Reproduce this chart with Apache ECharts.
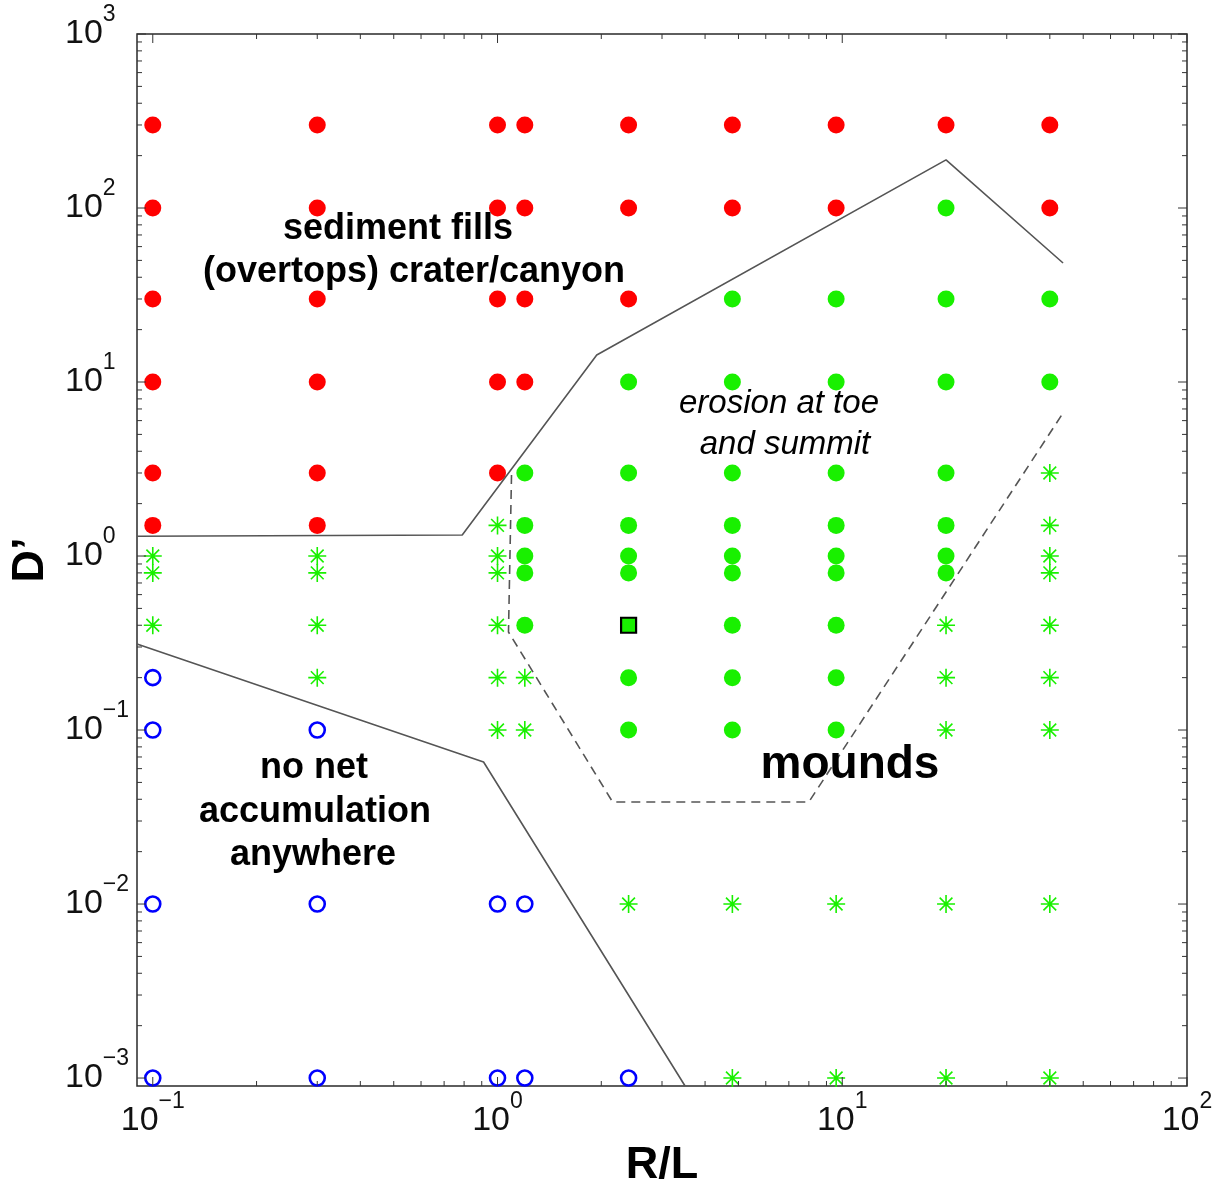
<!DOCTYPE html>
<html><head><meta charset="utf-8">
<script src="https://cdn.jsdelivr.net/npm/echarts@6/dist/echarts.min.js"></script>
<style>html,body{margin:0;padding:0;background:#fff}#chart{width:1225px;height:1183px}</style>
</head><body><div id="chart"></div>
<script>
// ---- axis tick labels (powers of ten) ----
const xTickLabels = [0.1, 1, 10, 100];
const yTickLabels = [0.001, 0.01, 0.1, 1, 10, 100, 1000];

// ---- data: [R/L, D'] ----
const fillsPts = [
  [0.1,300],[0.3,300],[1,300],[1.2,300],[2.4,300],[4.8,300],[9.6,300],[20,300],[40,300],
  [0.1,100],[0.3,100],[1,100],[1.2,100],[2.4,100],[4.8,100],[9.6,100],[40,100],
  [0.1,30],[0.3,30],[1,30],[1.2,30],[2.4,30],
  [0.1,10],[0.3,10],[1,10],[1.2,10],
  [0.1,3],[0.3,3],[1,3],
  [0.1,1.5],[0.3,1.5]
];
const erosionPts = [
  [20,100],
  [4.8,30],[9.6,30],[20,30],[40,30],
  [2.4,10],[4.8,10],[9.6,10],[20,10],[40,10],
  [1.2,3],[2.4,3],[4.8,3],[9.6,3],[20,3],
  [1.2,1.5],[2.4,1.5],[4.8,1.5],[9.6,1.5],[20,1.5],
  [1.2,1],[2.4,1],[4.8,1],[9.6,1],[20,1],
  [1.2,0.8],[2.4,0.8],[4.8,0.8],[9.6,0.8],[20,0.8],
  [1.2,0.4],[4.8,0.4],[9.6,0.4],
  [2.4,0.2],[4.8,0.2],[9.6,0.2],
  [2.4,0.1],[4.8,0.1],[9.6,0.1]
];
const moundPts = [
  [40,3],
  [1,1.5],[40,1.5],
  [0.1,1],[0.3,1],[1,1],[40,1],
  [0.1,0.8],[0.3,0.8],[1,0.8],[40,0.8],
  [0.1,0.4],[0.3,0.4],[1,0.4],[20,0.4],[40,0.4],
  [0.3,0.2],[1,0.2],[1.2,0.2],[20,0.2],[40,0.2],
  [1,0.1],[1.2,0.1],[20,0.1],[40,0.1],
  [2.4,0.01],[4.8,0.01],[9.6,0.01],[20,0.01],[40,0.01],
  [4.8,0.001],[9.6,0.001],[20,0.001],[40,0.001]
];
const noAccumPts = [
  [0.1,0.2],
  [0.1,0.1],[0.3,0.1],
  [0.1,0.01],[0.3,0.01],[1,0.01],[1.2,0.01],
  [0.1,0.001],[0.3,0.001],[1,0.001],[1.2,0.001],[2.4,0.001]
];
const markedPt = [[2.4,0.4]];

// ---- regime boundaries ----
const upperBoundary = [[0.09,1.30],[0.79,1.32],[1.94,14.3],[20,189],[43.7,48.3]];
const lowerBoundary = [[0.09,0.312],[0.911,0.0655],[3.5,0.0009]];
const moundBoundary = [[1.098,2.92],[1.076,0.366],[2.157,0.0386],[8,0.0386],[43.7,6.64]];

const X_MIN = 0.09, X_MAX = 100, Y_MIN = 0.0009, Y_MAX = 1000;

const FONT = '"Liberation Sans", Arial, Helvetica, sans-serif';
const GREEN = '#19f000';

function minorTicks(lo, hi) {
  const out = [];
  for (let k = -4; k <= 3; k++) {
    for (let m = 2; m <= 9; m++) {
      const v = m * Math.pow(10, k);
      if (v > lo * 1.0001 && v < hi * 0.9999) out.push(v);
    }
  }
  return out;
}

function powLabel(v) {
  const e = Math.log10(v);
  const r = Math.round(e);
  if (Math.abs(e - r) > 1e-6) return '';
  return '{b|10}{s|' + String(r).replace('-', '\u2212') + '}';
}

const richLbl = {
  b: {fontSize: 34, fontFamily: FONT, color: '#111', lineHeight: 62, verticalAlign: 'middle'},
  s: {fontSize: 23, fontFamily: FONT, color: '#111', lineHeight: 22, verticalAlign: 'top'}
};

function tickSeries(dim, majors, minors) {
  const data = [];
  majors.forEach(v => data.push(dim === 'x' ? [v, 1, 9] : [1, v, 9]));
  minors.forEach(v => data.push(dim === 'x' ? [v, 1, 5] : [1, v, 5]));
  return {
    type: 'custom', silent: true, z: 6, clip: false,
    encode: {x: 0, y: 1},
    data: data,
    renderItem: function (params, api) {
      const cs = params.coordSys;
      const p = api.coord([api.value(0), api.value(1)]);
      const len = api.value(2);
      const st = {stroke: '#333', lineWidth: 1};
      if (dim === 'x') {
        const yb = cs.y + cs.height, yt = cs.y;
        return {type: 'group', children: [
          {type: 'line', shape: {x1: p[0], y1: yb, x2: p[0], y2: yb - len}, style: st},
          {type: 'line', shape: {x1: p[0], y1: yt, x2: p[0], y2: yt + len}, style: st}
        ]};
      } else {
        const xl = cs.x, xr = cs.x + cs.width;
        return {type: 'group', children: [
          {type: 'line', shape: {x1: xl, y1: p[1], x2: xl + len, y2: p[1]}, style: st},
          {type: 'line', shape: {x1: xr, y1: p[1], x2: xr - len, y2: p[1]}, style: st}
        ]};
      }
    }
  };
}

const asterisk = 'path://M10 0L10 20M0 10L20 10M2.93 2.93L17.07 17.07M2.93 17.07L17.07 2.93';

function txt(text, x, y, size, weight, style) {
  return {
    type: 'text', x: x, y: y, z: 20,
    style: {
      text: text, align: 'center', verticalAlign: 'middle',
      fontSize: size, fontWeight: weight, fontStyle: style || 'normal',
      fontFamily: FONT, fill: '#000'
    }
  };
}

const chart = echarts.init(document.getElementById('chart'), null, {renderer: 'canvas'});
chart.setOption({
  animation: false,
  backgroundColor: '#fff',
  grid: {left: 137, right: 38, top: 34, bottom: 97, show: true, borderColor: '#2a2a2a', borderWidth: 1.5,
         backgroundColor: '#fff', containLabel: false, outerBoundsMode: 'none'},
  xAxis: {
    type: 'log', logBase: 10, min: X_MIN, max: X_MAX,
    name: 'R/L', nameLocation: 'middle', nameGap: 50,
    nameTextStyle: {fontSize: 45, fontWeight: 'bold', fontFamily: FONT, color: '#000'},
    axisLine: {show: false}, axisTick: {show: false}, splitLine: {show: false}, minorTick: {show: false},
    axisLabel: {
      margin: 4, formatter: powLabel, rich: richLbl,
      showMinLabel: true, showMaxLabel: true, hideOverlap: false
    }
  },
  yAxis: {
    type: 'log', logBase: 10, min: Y_MIN, max: Y_MAX,
    name: 'D\u2019', nameLocation: 'middle', nameGap: 84,
    nameTextStyle: {fontSize: 45, fontWeight: 'bold', fontFamily: FONT, color: '#000'},
    axisLine: {show: false}, axisTick: {show: false}, splitLine: {show: false}, minorTick: {show: false},
    axisLabel: {
      margin: 72, align: 'left', formatter: powLabel, rich: richLbl,
      showMinLabel: true, showMaxLabel: true, hideOverlap: false
    }
  },
  series: [
    {type: 'scatter', name: 'fills', data: fillsPts, symbol: 'circle', symbolSize: 17, z: 3,
     itemStyle: {color: '#ff0000', opacity: 1}},
    {type: 'scatter', name: 'erosion', data: erosionPts, symbol: 'circle', symbolSize: 17, z: 3,
     itemStyle: {color: GREEN, opacity: 1}},
    {type: 'scatter', name: 'mounds', data: moundPts, symbol: asterisk, symbolSize: 18, z: 3,
     itemStyle: {color: 'rgba(0,0,0,0)', borderColor: GREEN, borderWidth: 1.6, opacity: 1}},
    {type: 'scatter', name: 'none', data: noAccumPts, symbol: 'circle', symbolSize: 15, z: 3,
     itemStyle: {color: 'rgba(0,0,0,0)', borderColor: '#0000ff', borderWidth: 2.6, opacity: 1}},
    {type: 'scatter', name: 'marked', data: markedPt, symbol: 'rect', symbolSize: 15, z: 3,
     itemStyle: {color: GREEN, borderColor: '#000', borderWidth: 2.2, opacity: 1}},
    {type: 'line', data: upperBoundary, symbol: 'none', z: 4, silent: true,
     lineStyle: {color: '#555', width: 1.6}},
    {type: 'line', data: lowerBoundary, symbol: 'none', z: 4, silent: true,
     lineStyle: {color: '#555', width: 1.6}},
    {type: 'line', data: moundBoundary, symbol: 'none', z: 4, silent: true,
     lineStyle: {color: '#555', width: 1.6, type: [9, 6]}},
    tickSeries('x', xTickLabels, minorTicks(X_MIN, X_MAX)),
    tickSeries('y', yTickLabels, minorTicks(Y_MIN, Y_MAX))
  ],
  graphic: [
    txt('sediment fills', 398, 229, 36, 'bold'),
    txt('(overtops) crater/canyon', 414, 272, 36, 'bold'),
    txt('erosion at toe', 779, 404, 33, 'normal', 'italic'),
    txt('and summit', 785, 445, 33, 'normal', 'italic'),
    txt('no net', 314, 768, 36, 'bold'),
    txt('accumulation', 315, 812, 36, 'bold'),
    txt('anywhere', 313, 855, 36, 'bold'),
    txt('mounds', 850, 765, 46, 'bold')
  ]
});
</script>
</body></html>
